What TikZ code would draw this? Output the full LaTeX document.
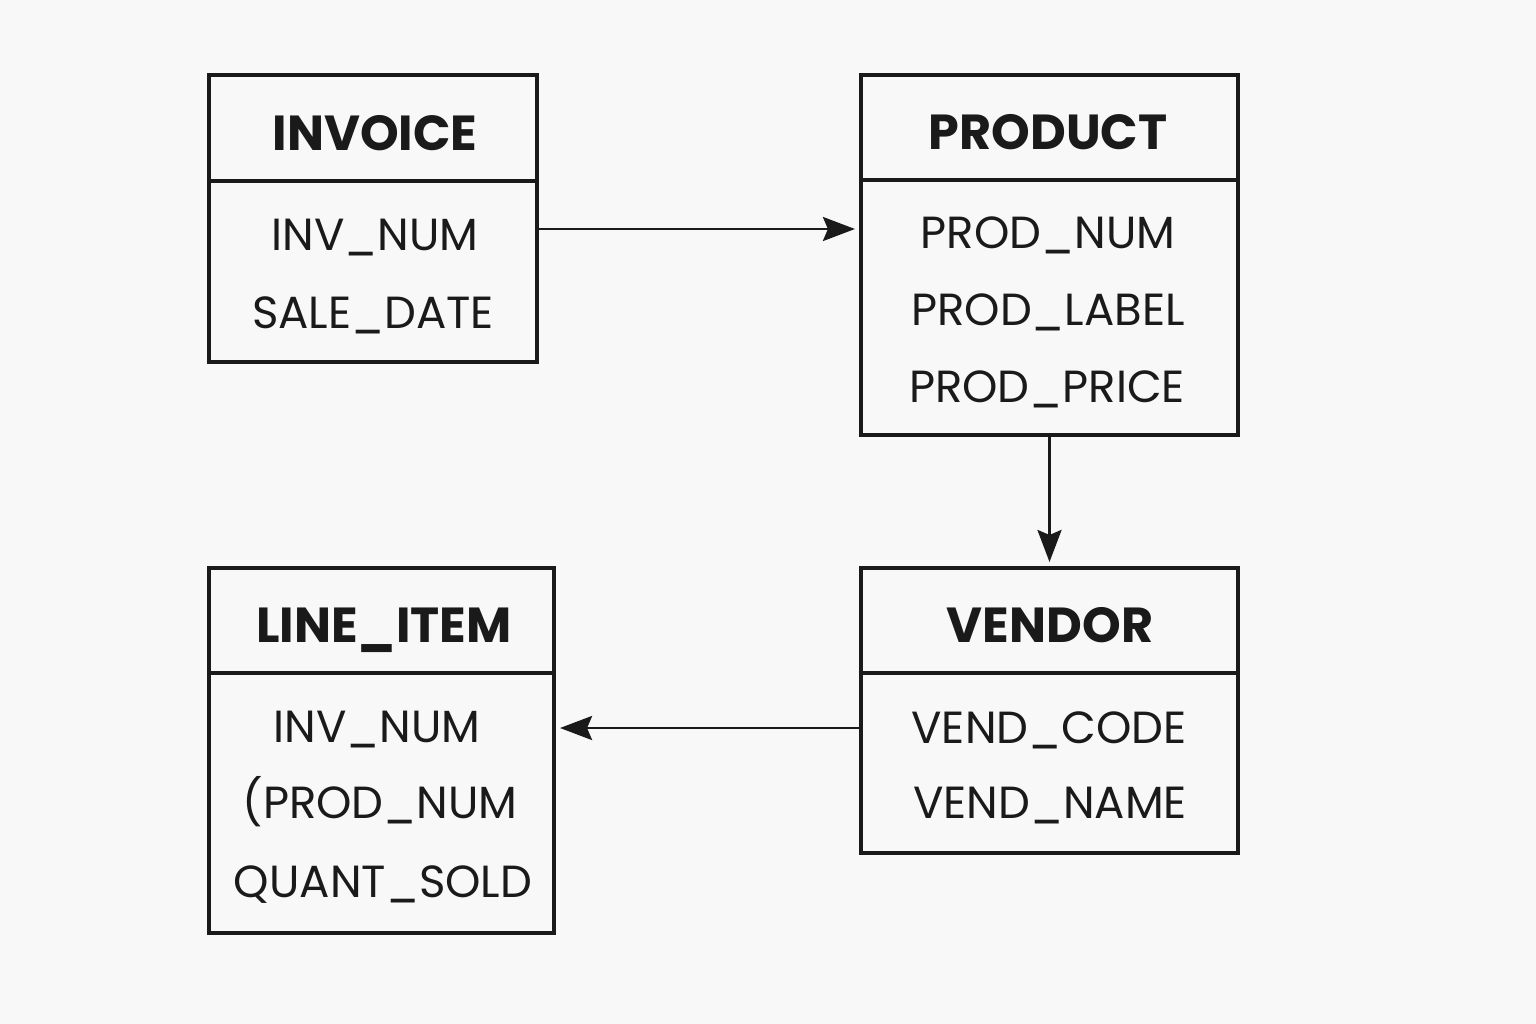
\documentclass[tikz,border=0pt]{standalone}
\usepackage{fontspec}
\setmainfont{Poppins}
\usetikzlibrary{arrows.meta}
\definecolor{ink}{HTML}{1A1A1A}
\definecolor{paper}{HTML}{F8F8F8}
\begin{document}
\begin{tikzpicture}[x=0.01cm,y=-0.01cm,
    entity/.style={draw=ink,line width=1.1pt,inner sep=0pt},
    divider/.style={draw=ink,line width=1.1pt},
    title/.style={anchor=base,text=ink,font=\fontsize{14}{16}\selectfont\bfseries},
    attr/.style={anchor=base,text=ink,font=\fontsize{12.8}{15}\selectfont},
    link/.style={draw=ink,line width=0.8pt,shorten >=0.04cm,
      -{Stealth[length=0.32cm,width=0.24cm,inset=0.05cm]}}]
            \fill[paper] (0,0) rectangle (1536,1024);
            \useasboundingbox (0,0) rectangle (1536,1024);

            % tables
            \node[entity,minimum width=3.28cm,minimum height=2.87cm] (I) at (373,218.5) {};
            \node[entity,minimum width=3.77cm,minimum height=3.60cm] (P) at (1049.5,255) {};
            \node[entity,minimum width=3.45cm,minimum height=3.65cm] (L) at (381.5,750.5) {};
            \node[entity,minimum width=3.77cm,minimum height=2.85cm] (V) at (1049.5,710.5) {};

            \draw[divider] (I.west |- 0,181) -- (I.east |- 0,181);
            \draw[divider] (P.west |- 0,180) -- (P.east |- 0,180);
            \draw[divider] (L.west |- 0,673) -- (L.east |- 0,673);
            \draw[divider] (V.west |- 0,673) -- (V.east |- 0,673);

            % headers
            \node[title] (IT) at (375,150) {INVOICE};
            \node[title] (PT) at (1048,149) {PRODUCT};
            \node[title] (LT) at (384,642) {LINE\_ITEM};
            \node[title] (VT) at (1050,642) {VENDOR};

            % attributes
            \node[attr] (I1) at (375,250) {INV\_NUM};
            \node[attr] (I2) at (373,328) {SALE\_DATE};

            \node[attr] (P1) at (1048,248) {PROD\_NUM};
            \node[attr] (P2) at (1048,325) {PROD\_LABEL};
            \node[attr] (P3) at (1047,402) {PROD\_PRICE};

            \node[attr] (L1) at (377,742) {INV\_NUM};
            \node[attr] (L2) at (380,818) {(PROD\_NUM};
            \node[attr] (L3) at (383,897) {QUANT\_SOLD};

            \node[attr] (V1) at (1049,743) {VEND\_CODE};
            \node[attr] (V2) at (1050,818) {VEND\_NAME};

            % links
            \draw[link] (I.east |- 0,229) -- (P.west |- 0,229);
            \draw[link] (P.south) -- (V.north);
            \draw[link] (V.west |- 0,728) -- (L.east |- 0,728);
\end{tikzpicture}
\end{document}
